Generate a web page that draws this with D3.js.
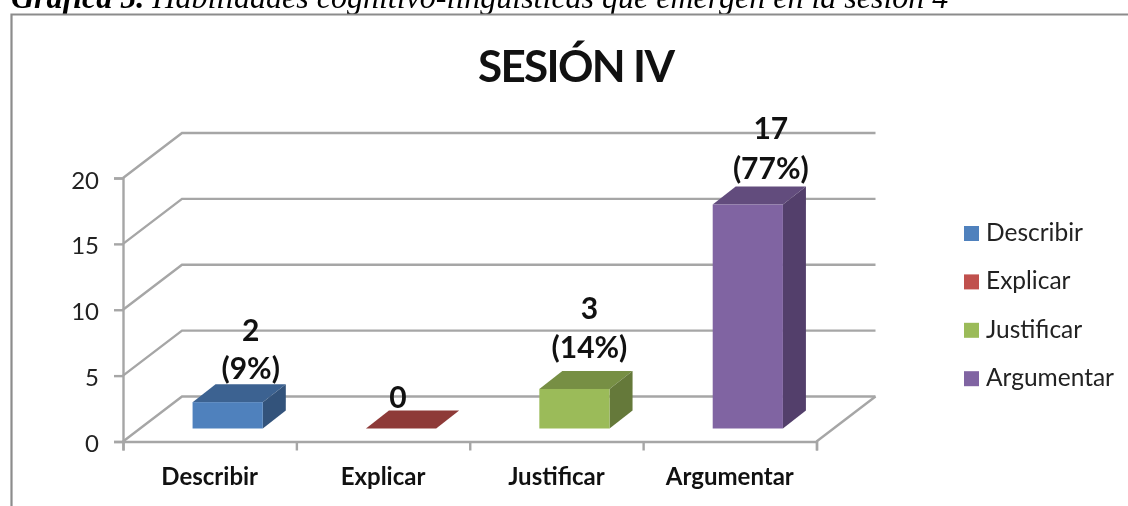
<!DOCTYPE html>
<html><head><meta charset="utf-8">
<script src="https://cdn.jsdelivr.net/npm/d3@7"></script>
<style>
html,body{margin:0;padding:0;background:#fff;overflow:hidden}
svg{display:block;filter:blur(0.4px)}
text{font-family:Lato,"Open Sans",sans-serif}
</style></head><body>
<svg id="c" width="1128" height="506"></svg>
<script>
const categories = ["Describir","Explicar","Justificar","Argumentar"];
const values = [2,0,3,17];
const labels = ["(9%)","","(14%)","(77%)"];
const colors = ["#4f81bd","#c0504d","#9bbb59","#8064a2"];
const topColors = ["#3c6291","#8e3a38","#778f44","#624c7d"];
const sideColors = ["#33537b","#8e3a38","#65793a","#533f6b"];
const yTicks = [0,5,10,15,20];
const pageTitle = ["Gráfica 5.", " Habilidades cognitivo-lingüísticas que emergen en la sesión 4"];
const chartTitle = "SESIÓN IV";

const svg = d3.select("#c");
const grey = "#a6a6a6";
const wall = {dx:59, dy:-45};
const barDepth = {dx:23, dy:-18};
const inset = {dx:18, dy:-13};
// hand placement of the data labels relative to each bar's top back edge
const labelShift = [
  {dx:0, count:-43, pct:-5},
  {dx:-26, count:-3, pct:0},
  {dx:-8, count:-52, pct:-13},
  {dx:0, count:-48, pct:-8}
];

const x = d3.scaleBand().domain(categories).range([123,816.5]);
const y = d3.scaleLinear().domain([0,20]).range([441.5,178]);

// page caption
const cap = svg.append("text").attr("x",11).attr("y",8)
  .style("font-family","'Liberation Serif',serif").style("font-size","32px")
  .style("font-style","italic").attr("fill","#000");
cap.append("tspan").style("font-weight","700").text(pageTitle[0]);
cap.append("tspan").text(pageTitle[1]);

// frame
svg.append("path").attr("d","M11.5,506V14.5H1128").attr("fill","none").attr("stroke","#8c8c8c").attr("stroke-width",2.2);

// title
svg.append("text").attr("x",478).attr("y",82)
  .attr("textLength",197).attr("lengthAdjust","spacing")
  .style("font-size","44px").style("font-weight","700").attr("fill","#111").text(chartTitle);

// walls: gridlines
const g = svg.append("g");
yTicks.forEach(t=>{
  g.append("path").attr("fill","none").attr("stroke",grey).attr("stroke-width",2.4)
   .attr("d",d3.line()([[x.range()[0],y(t)],[x.range()[0]+wall.dx,y(t)+wall.dy],[x.range()[1]+wall.dx,y(t)+wall.dy]]));
});
// floor
g.append("path").attr("fill","none").attr("stroke",grey).attr("stroke-width",2.4)
 .attr("d",d3.line()([[x.range()[1],y(0)],[x.range()[1]+wall.dx,y(0)+wall.dy]]));

// axes
const yAxis = d3.axisLeft(y).tickValues(yTicks).tickSize(9).tickPadding(15);
const ya = svg.append("g").attr("transform",`translate(${x.range()[0]},0)`).call(yAxis);
const xEdge = d3.scaleLinear().domain([0,categories.length]).range(x.range());
const xAxis = d3.axisBottom(xEdge).tickValues(d3.range(categories.length+1)).tickSize(9).tickFormat("");
const xa = svg.append("g").attr("transform",`translate(0,${y(0)})`).call(xAxis);
[ya,xa].forEach(a=>{a.selectAll("path,line").attr("stroke",grey).attr("stroke-width",2.4);});
ya.selectAll("text").style("font-family","Lato,sans-serif").style("font-size","24px").attr("fill","#222").attr("dy","0.42em");

// category labels
svg.append("g").selectAll("text").data(categories).join("text")
  .attr("x",d=>x(d)+x.bandwidth()/2).attr("y",485).attr("text-anchor","middle")
  .style("font-size","24px").style("font-weight","700").attr("fill","#111").text(d=>d);

// bars
const barW = x.bandwidth()*0.405;
const bars = svg.append("g").selectAll("g").data(categories).join("g");
bars.each(function(c,i){
  const sel=d3.select(this);
  const x0=x(c)+(x.bandwidth()-barW)/2+inset.dx, x1=x0+barW;
  const yb=y(0)+inset.dy, yt=y(values[i])+inset.dy;
  const p=d3.line();
  sel.append("path").attr("fill",topColors[i])
    .attr("d",p([[x0,yt],[x1,yt],[x1+barDepth.dx,yt+barDepth.dy],[x0+barDepth.dx,yt+barDepth.dy]])+"Z");
  if(values[i]>0){
    sel.append("path").attr("fill",sideColors[i])
      .attr("d",p([[x1,yt],[x1+barDepth.dx,yt+barDepth.dy],[x1+barDepth.dx,yb+barDepth.dy],[x1,yb]])+"Z");
    sel.append("rect").attr("x",x0).attr("y",yt).attr("width",barW).attr("height",yb-yt).attr("fill",colors[i]);
  }
  const s=labelShift[i];
  const cx=(x0+x1)/2+barDepth.dx+s.dx;
  const top=yt+barDepth.dy;
  sel.append("text").attr("x",cx).attr("y",top+s.count).attr("text-anchor","middle")
    .style("font-size","30px").style("font-weight","700").attr("fill","#111").text(values[i]);
  if(labels[i]!=="") sel.append("text").attr("x",cx).attr("y",top+s.pct).attr("text-anchor","middle")
    .style("font-size","30px").style("font-weight","700").attr("fill","#111").text(labels[i]);
});

// legend
const leg = svg.append("g").selectAll("g").data(categories).join("g")
  .attr("transform",(d,i)=>`translate(964,${226+i*48.4})`);
leg.append("rect").attr("width",15).attr("height",15).attr("fill",(d,i)=>colors[i]);
leg.append("text").attr("x",22).attr("y",15).style("font-size","24.5px").attr("fill","#222").text(d=>d);
</script>
</body></html>
